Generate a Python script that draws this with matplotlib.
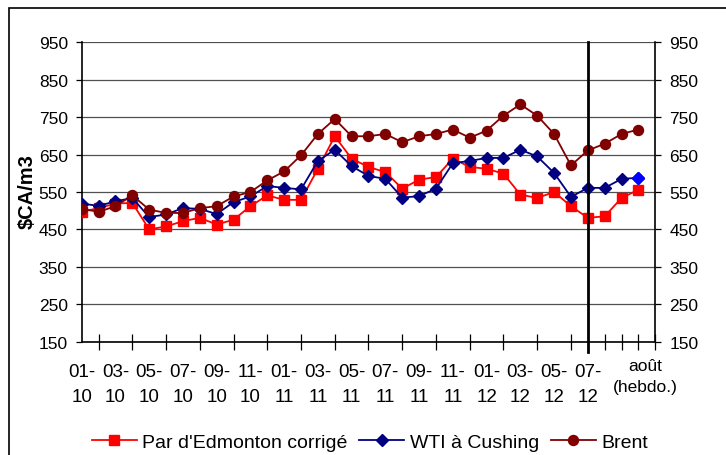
import matplotlib
matplotlib.use('Agg')
import matplotlib.pyplot as plt
from matplotlib.patches import Rectangle
import numpy as np

plt.rcParams['font.family'] = ['Liberation Sans', 'DejaVu Sans']

# --- Data (monthly 01-10 .. 07-12, then weekly August) ---
tick_labels = ['01-\n10', '03-\n10', '05-\n10', '07-\n10', '09-\n10', '11-\n10',
               '01-\n11', '03-\n11', '05-\n11', '07-\n11', '09-\n11', '11-\n11',
               '01-\n12', '03-\n12', '05-\n12', '07-\n12']
edmonton = [497, 507, 519, 521, 450, 458, 472, 481, 463, 476, 512, 541, 529, 529,
            612, 699, 639, 617, 603, 559, 583, 590, 639, 617, 612, 599, 543, 534,
            550, 512, 481, 485, 534, 556]
wti = [519, 513, 525, 534, 483, 490, 507, 505, 491, 523, 538, 566, 561, 557,
       633, 663, 619, 593, 585, 535, 539, 559, 627, 633, 641, 641, 663, 645,
       601, 537, 561, 561, 585, 588]
brent = [505, 497, 512, 541, 503, 494, 494, 507, 512, 538, 550, 581, 605, 648,
         705, 745, 699, 699, 705, 683, 699, 705, 717, 695, 714, 754, 784, 754,
         705, 621, 661, 679, 705, 717]

x = np.arange(len(edmonton))
yticks = np.arange(150, 951, 100)

fig = plt.figure(figsize=(7.26, 4.56), dpi=100)
ax = fig.add_axes([81.7 / 726, 1 - 342.7 / 456, (655.3 - 81.7) / 726, (342.7 - 43.3) / 456])

for v in yticks:
    ax.axhline(v, color='#505050', linewidth=0.9, zorder=1)

ax.plot(x, edmonton, color='#FF0000', marker='s', markersize=7, linewidth=1.3,
        label="Par d'Edmonton corrigé", zorder=3)
ax.plot(x, wti, color='#000080', marker='D', markersize=6.3, linewidth=1.3,
        label='WTI à Cushing', zorder=4)
ax.plot(x, brent, color='#800000', marker='o', markersize=7.2, linewidth=1.3,
        label='Brent', zorder=5)
# last weekly WTI point is highlighted
ax.plot(x[-1], wti[-1], color='#0000FF', marker='D', markersize=6.3, linestyle='none', zorder=6)

# separator between monthly and weekly data
ax.plot([30, 30], [123, 950], color='black', linewidth=2, clip_on=False, zorder=6)

ax.set_xlim(0, 34)
ax.set_ylim(150, 950)
ax.set_yticks(yticks)
ax.set_xticks(np.arange(0, 31, 2))
ax.set_xticklabels(tick_labels, fontsize=13.5, linespacing=1.65)
ax.set_xticks(np.arange(0, 35), minor=True)
ax.tick_params(axis='x', which='major', length=0, pad=15)
ax.tick_params(axis='x', which='minor', direction='inout', length=11, width=0.9)
ax.tick_params(axis='y', direction='out', length=4, width=0.9, pad=6, labelsize=12.5)
ax.text(33.4, 150 - 16 / 0.375, 'août\n(hebdo.)', ha='center', va='top', fontsize=12.5,
        linespacing=1.5)

for side in ['top', 'right']:
    ax.spines[side].set_visible(False)
ax.spines['left'].set_linewidth(1.2)
ax.spines['bottom'].set_linewidth(1.2)

ax2 = ax.twinx()
ax2.set_ylim(150, 950)
ax2.set_yticks(yticks)
ax2.tick_params(axis='y', direction='out', length=4, width=0.9, pad=6, labelsize=12.5)
for side in ['top', 'left', 'bottom']:
    ax2.spines[side].set_visible(False)
ax2.spines['right'].set_linewidth(1.2)

fig.text(26.7 / 726, 1 - 192 / 456, '\\$CA/m3', rotation=90, ha='center', va='center',
         fontsize=14.5, fontweight='bold')

fig.legend(*ax.get_legend_handles_labels(), loc='center', ncol=3,
           bbox_to_anchor=(370 / 726, 1 - 443 / 456), frameon=False, fontsize=14,
           handlelength=2.3, handletextpad=0.3, columnspacing=0.6)

fig.patches.append(Rectangle((9 / 726, -0.1), 1.2, 1 - 9.3 / 456 + 0.1,
                             transform=fig.transFigure, fill=False,
                             edgecolor='black', linewidth=1.2))

fig.savefig('out.png', dpi=100, facecolor='white')
plt.close()
